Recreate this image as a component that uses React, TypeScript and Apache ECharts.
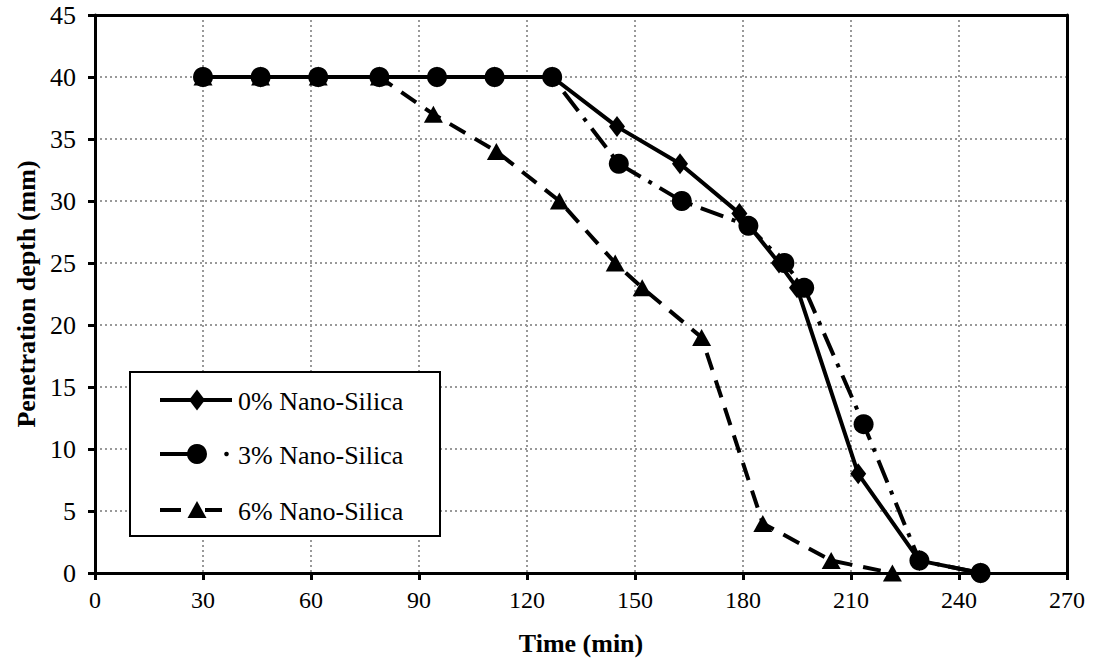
import React, { useEffect, useRef } from "react";
import * as echarts from "echarts";

const seriesNames = ["0% Nano-Silica", "3% Nano-Silica", "6% Nano-Silica"];
const time0 = [30, 46, 62, 79, 95, 111, 127, 145, 162.5, 179, 190, 195, 212, 229, 246];
const depth0 = [40, 40, 40, 40, 40, 40, 40, 36, 33, 29, 25, 23, 8, 1, 0];
const time3 = [30, 46, 62, 79, 95, 111, 127, 145.5, 163, 181.5, 191.5, 197, 213.5, 229, 246];
const depth3 = [40, 40, 40, 40, 40, 40, 40, 33, 30, 28, 25, 23, 12, 1, 0];
const time6 = [30, 46, 62, 79, 94, 111.5, 129, 144.5, 152, 168.5, 185.5, 204.5, 221.5];
const depth6 = [40, 40, 40, 40, 37, 34, 30, 25, 23, 19, 4, 1, 0];

const pairs = (xs: number[], ys: number[]) => xs.map((x, i) => [x, ys[i]]);

export default function App() {
  const ref = useRef<HTMLDivElement>(null);
  useEffect(() => {
    const chart = echarts.init(ref.current!, null, { renderer: "svg" });
    const font = "Liberation Serif";
    const frameAxis = {
      type: "value",
      axisLine: { show: true, onZero: false, lineStyle: { color: "#000", width: 3 } },
      axisTick: { show: false },
      axisLabel: { show: false },
      splitLine: { show: false },
    };
    const blk = { stroke: "#000", lineWidth: 4 };
    const rows = [400, 454, 510];
    const label = (t: string, x: number, y: number) => ({
      type: "text",
      x,
      y,
      style: { text: t, fontFamily: font, fontSize: 26, fill: "#000", verticalAlign: "middle", align: "left" },
    });
    const legendElements = [
      { type: "rect", shape: { x: 130, y: 372, width: 310, height: 164 }, style: { fill: "#fff", stroke: "#000", lineWidth: 2 } },
      { type: "line", shape: { x1: 160, y1: rows[0], x2: 232, y2: rows[0] }, style: blk },
      { type: "polygon", shape: { points: [[197, rows[0] - 10.5], [205, rows[0]], [197, rows[0] + 10.5], [189, rows[0]]] }, style: { fill: "#000" } },
      label(seriesNames[0], 238, rows[0] + 1),
      { type: "line", shape: { x1: 160, y1: rows[1], x2: 205, y2: rows[1] }, style: blk },
      { type: "circle", shape: { cx: 197, cy: rows[1], r: 10 }, style: { fill: "#000" } },
      { type: "circle", shape: { cx: 226.5, cy: rows[1], r: 2.3 }, style: { fill: "#000" } },
      label(seriesNames[1], 238, rows[1] + 1),
      { type: "line", shape: { x1: 160, y1: rows[2], x2: 181, y2: rows[2] }, style: blk },
      { type: "line", shape: { x1: 205, y1: rows[2], x2: 222, y2: rows[2] }, style: blk },
      { type: "polygon", shape: { points: [[197, rows[2] - 9], [206.5, rows[2] + 8], [187.5, rows[2] + 8]] }, style: { fill: "#000" } },
      label(seriesNames[2], 238, rows[2] + 1),
    ];
    chart.setOption({
      animation: false,
      textStyle: { fontFamily: font },
      grid: { left: 95, right: 29, top: 15, bottom: 90 },
      graphic: { elements: legendElements.map((e) => ({ ...e, z: 100 })) },
      xAxis: [
        {
          type: "value",
          min: 0,
          max: 270,
          interval: 30,
          name: "Time (min)",
          nameLocation: "middle",
          nameGap: 57,
          nameTextStyle: { fontFamily: font, fontSize: 26, fontWeight: "bold", color: "#000" },
          axisLine: { lineStyle: { color: "#000", width: 3 } },
          axisTick: { show: true, length: 7, lineStyle: { color: "#000", width: 3 } },
          axisLabel: { fontFamily: font, fontSize: 24, color: "#000", margin: 15 },
          splitLine: { show: true, lineStyle: { color: "#999", width: 2, type: [2, 3] } },
        },
        { ...frameAxis, position: "top", min: 0, max: 270 },
      ],
      yAxis: [
        {
          type: "value",
          min: 0,
          max: 45,
          interval: 5,
          name: "Penetration depth (mm)",
          nameLocation: "middle",
          nameGap: 46,
          nameTextStyle: { fontFamily: font, fontSize: 26, fontWeight: "bold", color: "#000" },
          axisLine: { lineStyle: { color: "#000", width: 3 } },
          axisTick: { show: true, length: 7, lineStyle: { color: "#000", width: 3 } },
          axisLabel: { fontFamily: font, fontSize: 26, color: "#000", margin: 19 },
          splitLine: { show: true, lineStyle: { color: "#999", width: 2, type: [2, 3] } },
        },
        { ...frameAxis, position: "right", min: 0, max: 45 },
      ],
      series: [
        {
          name: seriesNames[0],
          type: "line",
          data: pairs(time0, depth0),
          symbol: "diamond",
          symbolSize: [16, 21],
          z: 3,
          itemStyle: { color: "#000" },
          lineStyle: { color: "#000", width: 4 },
        },
        {
          name: seriesNames[1],
          type: "line",
          data: pairs(time3, depth3),
          symbol: "circle",
          symbolSize: 20,
          z: 4,
          itemStyle: { color: "#000" },
          lineStyle: { color: "#000", width: 4, type: [24, 9, 4, 9] },
        },
        {
          name: seriesNames[2],
          type: "line",
          data: pairs(time6, depth6),
          symbol: "triangle",
          symbolSize: [19, 17],
          z: 2,
          itemStyle: { color: "#000" },
          lineStyle: { color: "#000", width: 4, type: [18, 11] },
        },
      ],
    });
    return () => chart.dispose();
  }, []);
  return <div ref={ref} style={{ width: 1096, height: 663, position: "absolute", left: 0, top: 0 }} />;
}
